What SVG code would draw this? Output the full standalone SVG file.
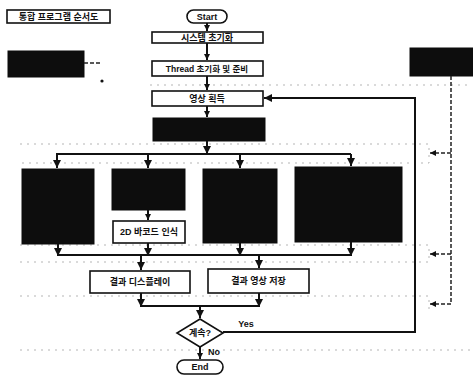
<svg xmlns="http://www.w3.org/2000/svg" width="473" height="376" viewBox="0 0 473 376">
<style>
.box{fill:#fff;stroke:#111;stroke-width:1.6}
.blk{fill:#0d0d0d;stroke:#0d0d0d;stroke-width:1}
.t{font-family:"Liberation Sans","Noto Sans CJK KR",sans-serif;font-size:9px;font-weight:bold;fill:#111;text-anchor:middle;dominant-baseline:central}
.ln{fill:none;stroke:#111;stroke-width:2}
.dl{fill:none;stroke:#222;stroke-width:1.5;stroke-dasharray:4 2}
.gd{fill:none;stroke:#b5b5b5;stroke-width:1;stroke-dasharray:2 5}
</style>
<defs>
<marker id="ah" viewBox="0 0 10 10" refX="10" refY="5" markerWidth="8" markerHeight="8" markerUnits="userSpaceOnUse" orient="auto">
<path d="M0,0 L10,5 L0,10 Z" fill="#111"/>
</marker>
<marker id="as" viewBox="0 0 10 10" refX="10" refY="5" markerWidth="6" markerHeight="6" markerUnits="userSpaceOnUse" orient="auto">
<path d="M0,0 L10,5 L0,10 Z" fill="#111"/>
</marker>
</defs>
<g id="guides">
<path class="gd" d="M150,85 H470"/>
<path class="gd" d="M20,144 H429 V163 H20"/>
<path class="gd" d="M20,245 H429 V262 H20"/>
<path class="gd" d="M20,296 H429 V312"/>
<path class="gd" d="M20,350 H470"/>
</g>
<g id="title"><rect class="box" x="7" y="10" width="103" height="13"/><text class="t" x="58.5" y="16.5">통합 프로그램 순서도</text></g>
<g id="leftnote"><rect class="blk" x="8" y="51" width="76" height="26"/></g>
<g id="rightnote"><rect class="blk" x="410" y="48" width="63" height="28"/></g>
<g id="start"><rect class="box" x="187" y="10" width="40" height="13" rx="6.5"/><text class="t" x="207" y="16.5">Start</text></g>
<g id="sysinit"><rect class="box" x="152" y="32" width="111" height="11"/><text class="t" x="207" y="37.5">시스템 초기화</text></g>
<g id="thread"><rect class="box" x="152" y="61" width="111" height="15"/><text class="t" x="207" y="68.5" style="font-size:8.5px">Thread 초기화 및 준비</text></g>
<g id="acquire"><rect class="box" x="152" y="91" width="111" height="15"/><text class="t" x="207" y="98.5">영상 획득</text></g>
<g id="proc0"><rect class="blk" x="153" y="118" width="112" height="23"/></g>
<g id="proc1"><rect class="blk" x="22" y="169" width="72" height="75"/></g>
<g id="proc2"><rect class="blk" x="112" y="169" width="73" height="41"/></g>
<g id="barcode"><rect class="box" x="113" y="221" width="72" height="22"/><text class="t" x="149" y="232">2D 바코드 인식</text></g>
<g id="proc3"><rect class="blk" x="203" y="169" width="74" height="74"/></g>
<g id="proc4"><rect class="blk" x="295" y="167" width="107" height="75"/></g>
<g id="display"><rect class="box" x="90" y="271" width="100" height="22"/><text class="t" x="140" y="282">결과 디스플레이</text></g>
<g id="save"><rect class="box" x="208" y="269" width="101" height="24"/><text class="t" x="258.5" y="281">결과 영상 저장</text></g>
<g id="decision"><path class="box" d="M200,319 L223,333 L200,347 L177,333 Z"/><text class="t" x="200" y="333">계속?</text></g>
<g id="end"><rect class="box" x="177" y="360" width="46" height="14" rx="7"/><text class="t" x="200" y="367">End</text></g>
<g id="connectors">
<path class="ln" d="M207,23 V31" marker-end="url(#as)"/>
<path class="ln" d="M207,43 V60" marker-end="url(#as)"/>
<path class="ln" d="M207,76 V90" marker-end="url(#as)"/>
<path class="ln" d="M207,106 V117" marker-end="url(#as)"/>
<path class="ln" d="M207,141 V154" marker-end="url(#ah)"/>
<path class="ln" d="M57,168 V154 H351"/>
<path class="ln" d="M57,154 V168" marker-end="url(#ah)"/>
<path class="ln" d="M148,154 V168" marker-end="url(#ah)"/>
<path class="ln" d="M240,154 V168" marker-end="url(#ah)"/>
<path class="ln" d="M351,154 V166" marker-end="url(#ah)"/>
<path class="ln" d="M148,210 V220" marker-end="url(#as)"/>
<path class="ln" d="M58,255 H351"/>
<path class="ln" d="M58,244 V256" marker-end="url(#ah)"/>
<path class="ln" d="M148,243 V256" marker-end="url(#ah)"/>
<path class="ln" d="M240,243 V256" marker-end="url(#ah)"/>
<path class="ln" d="M351,242 V256" marker-end="url(#ah)"/>
<path class="ln" d="M141,255 V270" marker-end="url(#ah)"/>
<path class="ln" d="M259,255 V268" marker-end="url(#ah)"/>
<path class="ln" d="M141,306 H259"/>
<path class="ln" d="M141,293 V307" marker-end="url(#ah)"/>
<path class="ln" d="M259,293 V307" marker-end="url(#ah)"/>
<path class="ln" d="M200,306 V318" marker-end="url(#ah)"/>
<path class="ln" d="M200,347 V359" marker-end="url(#as)"/>
<path class="ln" d="M223,332 H415 V98 H264" marker-end="url(#ah)"/>
<text class="t" x="246" y="324">Yes</text>
<text class="t" x="214" y="352">No</text>
<path class="dl" d="M451,76 V304"/>
<path class="dl" d="M451,153 H430" marker-end="url(#as)"/>
<path class="dl" d="M451,254 H430" marker-end="url(#as)"/>
<path class="dl" d="M451,304 H430" marker-end="url(#as)"/>
<path class="dl" d="M84,63 H102"/>
<circle cx="102" cy="81" r="1.6" fill="#111"/>
</g>
</svg>
